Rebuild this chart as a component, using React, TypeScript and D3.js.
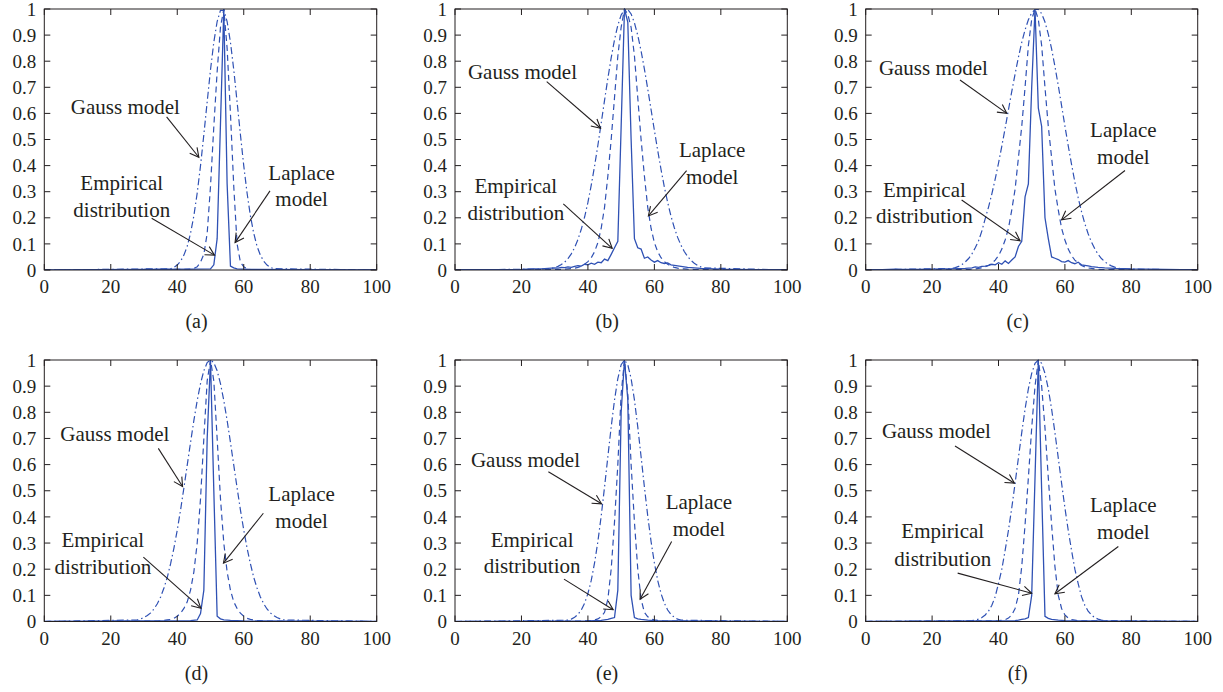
import React from 'react';
import * as d3 from 'd3';

type Pt = [number, number];

// ---------- tick labels / categories ----------
const xTicks = [0, 20, 40, 60, 80, 100];
const yTicks = [0, 0.1, 0.2, 0.3, 0.4, 0.5, 0.6, 0.7, 0.8, 0.9, 1];
const yTickLabels = ['0', '0.1', '0.2', '0.3', '0.4', '0.5', '0.6', '0.7', '0.8', '0.9', '1'];
const panelLabels = ['(a)', '(b)', '(c)', '(d)', '(e)', '(f)'];
const gaussText = ['Gauss model'];
const laplaceText = ['Laplace', 'model'];
const empiricalText = ['Empirical', 'distribution'];

// ---------- empirical distributions (x, y) ----------
const empiricalA: Pt[] = [[0, 0], [45, 0.003], [50, 0.004], [51, 0.02], [52, 0.12], [53, 0.56], [54, 1], [55, 0.33], [56, 0.015], [57, 0.008], [58, 0.004], [62, 0.002], [100, 0]];
const empiricalB: Pt[] = [[0, 0.001], [10, 0.001], [20, 0.002], [22, 0.003], [24, 0.004], [26, 0.004], [28, 0.006], [30, 0.008], [31, 0.007], [32, 0.01], [33, 0.009], [34, 0.012], [35, 0.01], [36, 0.014], [37, 0.017], [38, 0.015], [39, 0.022], [40, 0.02], [41, 0.026], [42, 0.022], [43, 0.03], [44, 0.028], [45, 0.042], [46, 0.036], [47, 0.06], [48, 0.085], [49, 0.11], [50, 0.55], [51, 1], [52, 0.95], [53, 0.5], [54, 0.12], [55, 0.085], [56, 0.08], [57, 0.045], [58, 0.05], [59, 0.038], [60, 0.03], [61, 0.036], [62, 0.028], [63, 0.025], [64, 0.027], [65, 0.02], [66, 0.018], [67, 0.016], [68, 0.014], [69, 0.012], [70, 0.01], [72, 0.008], [74, 0.006], [76, 0.005], [78, 0.004], [80, 0.003], [85, 0.002], [90, 0.001], [100, 0.001]];
const empiricalC: Pt[] = [[0, 0.001], [5, 0.001], [9, 0.003], [10, 0.002], [15, 0.002], [20, 0.003], [25, 0.004], [28, 0.005], [30, 0.006], [32, 0.008], [33, 0.012], [34, 0.01], [35, 0.014], [36, 0.015], [37, 0.018], [38, 0.022], [39, 0.02], [40, 0.028], [41, 0.022], [42, 0.035], [43, 0.025], [44, 0.038], [45, 0.05], [46, 0.09], [47, 0.11], [48, 0.28], [49, 0.33], [50, 0.7], [51, 1], [52, 0.62], [53, 0.55], [54, 0.2], [55, 0.12], [56, 0.05], [57, 0.045], [58, 0.04], [59, 0.032], [60, 0.03], [61, 0.036], [62, 0.028], [63, 0.024], [64, 0.03], [65, 0.02], [66, 0.018], [67, 0.016], [68, 0.013], [70, 0.01], [72, 0.008], [75, 0.006], [78, 0.005], [80, 0.004], [85, 0.003], [90, 0.002], [95, 0.001], [100, 0.001]];
const empiricalD: Pt[] = [[0, 0], [44, 0.003], [46, 0.006], [47, 0.03], [48, 0.12], [49, 0.7], [50, 1], [51, 0.5], [52, 0.02], [53, 0.01], [54, 0.006], [56, 0.004], [60, 0.002], [100, 0]];
const empiricalE: Pt[] = [[0, 0], [40, 0.002], [44, 0.004], [46, 0.008], [47, 0.012], [48, 0.015], [49, 0.12], [50, 0.8], [51, 1], [52, 0.85], [53, 0.1], [54, 0.015], [55, 0.01], [56, 0.008], [58, 0.005], [60, 0.003], [65, 0.002], [100, 0]];
const empiricalF: Pt[] = [[0, 0], [40, 0.002], [45, 0.003], [46, 0.005], [47, 0.008], [48, 0.01], [49, 0.015], [50, 0.1], [51, 0.55], [52, 1], [53, 0.5], [54, 0.02], [55, 0.012], [56, 0.008], [58, 0.005], [60, 0.003], [65, 0.002], [100, 0]];

// ---------- Laplace model (values at consecutive integer x from start) ----------
const laplaceAStart = 44;
const laplaceA = [0.003, 0.006, 0.012, 0.03, 0.06, 0.14, 0.32, 0.55, 0.76, 0.93, 1, 0.85, 0.6, 0.32, 0.1, 0.03, 0.012, 0.005, 0.002];
const laplaceBStart = 31;
const laplaceB = [0.002, 0.0025, 0.003, 0.004, 0.005, 0.007, 0.01, 0.015, 0.022, 0.032, 0.047, 0.07, 0.105, 0.16, 0.24, 0.36, 0.5, 0.66, 0.82, 0.93, 1, 0.98, 0.93, 0.82, 0.66, 0.5, 0.36, 0.24, 0.16, 0.105, 0.07, 0.047, 0.032, 0.022, 0.015, 0.01, 0.007, 0.005, 0.004, 0.003, 0.0025, 0.002];
const laplaceCStart = 31;
const laplaceC = [0.002, 0.003, 0.004, 0.006, 0.008, 0.012, 0.017, 0.026, 0.038, 0.055, 0.08, 0.115, 0.16, 0.23, 0.31, 0.43, 0.55, 0.7, 0.86, 0.96, 1, 0.96, 0.86, 0.7, 0.55, 0.43, 0.31, 0.23, 0.16, 0.115, 0.08, 0.055, 0.038, 0.026, 0.017, 0.012, 0.008, 0.006, 0.004, 0.003, 0.002];
const laplaceDStart = 34;
const laplaceD = [0.002, 0.003, 0.004, 0.006, 0.008, 0.012, 0.02, 0.032, 0.05, 0.075, 0.12, 0.19, 0.3, 0.47, 0.7, 0.92, 1, 0.92, 0.7, 0.47, 0.3, 0.19, 0.12, 0.075, 0.05, 0.032, 0.02, 0.012, 0.008, 0.006, 0.004, 0.003, 0.002];
const laplaceEStart = 39;
const laplaceE = [0.002, 0.003, 0.004, 0.006, 0.01, 0.018, 0.035, 0.085, 0.2, 0.38, 0.6, 0.87, 1, 0.87, 0.6, 0.38, 0.2, 0.085, 0.035, 0.018, 0.01, 0.006, 0.004, 0.003, 0.002];
const laplaceFStart = 40;
const laplaceF = [0.003, 0.005, 0.007, 0.013, 0.025, 0.05, 0.1, 0.21, 0.37, 0.55, 0.74, 0.9, 1, 0.9, 0.74, 0.55, 0.37, 0.21, 0.1, 0.05, 0.025, 0.013, 0.007, 0.005, 0.003];

// ---------- Gauss model (values at consecutive integer x from start) ----------
const gaussAStart = 38;
const gaussA = [0.005, 0.01, 0.019, 0.034, 0.057, 0.091, 0.141, 0.208, 0.295, 0.4, 0.519, 0.644, 0.767, 0.873, 0.952, 0.995, 0.995, 0.952, 0.873, 0.767, 0.644, 0.519, 0.4, 0.295, 0.208, 0.141, 0.091, 0.057, 0.034, 0.019, 0.01, 0.005];
const gaussBStart = 28;
const gaussB = [0.004, 0.006, 0.009, 0.014, 0.021, 0.03, 0.044, 0.062, 0.086, 0.117, 0.156, 0.203, 0.259, 0.325, 0.398, 0.478, 0.563, 0.65, 0.734, 0.813, 0.882, 0.938, 0.977, 0.997, 0.998, 0.981, 0.947, 0.899, 0.839, 0.77, 0.694, 0.615, 0.535, 0.458, 0.385, 0.318, 0.259, 0.206, 0.162, 0.125, 0.095, 0.071, 0.052, 0.037, 0.026, 0.018, 0.012, 0.008];
const gaussCStart = 26;
const gaussC = [0.006, 0.009, 0.014, 0.021, 0.031, 0.044, 0.062, 0.085, 0.112, 0.15, 0.197, 0.241, 0.292, 0.348, 0.409, 0.475, 0.543, 0.614, 0.684, 0.751, 0.815, 0.872, 0.92, 0.959, 0.985, 0.998, 0.998, 0.982, 0.95, 0.904, 0.847, 0.78, 0.707, 0.63, 0.552, 0.476, 0.405, 0.337, 0.277, 0.224, 0.178, 0.139, 0.107, 0.081, 0.06, 0.044, 0.032, 0.022, 0.016, 0.011, 0.007, 0.004];
const gaussDStart = 28;
const gaussD = [0.006, 0.01, 0.015, 0.023, 0.033, 0.048, 0.068, 0.094, 0.128, 0.169, 0.221, 0.281, 0.35, 0.427, 0.511, 0.598, 0.685, 0.769, 0.845, 0.91, 0.959, 0.99, 1, 0.99, 0.959, 0.91, 0.845, 0.769, 0.685, 0.598, 0.511, 0.427, 0.35, 0.281, 0.221, 0.169, 0.128, 0.094, 0.068, 0.048, 0.033, 0.023, 0.015, 0.01, 0.006];
const gaussEStart = 34;
const gaussE = [0.005, 0.009, 0.016, 0.027, 0.044, 0.07, 0.107, 0.157, 0.224, 0.306, 0.404, 0.514, 0.63, 0.744, 0.847, 0.929, 0.982, 1, 0.982, 0.929, 0.847, 0.744, 0.63, 0.514, 0.404, 0.306, 0.224, 0.157, 0.107, 0.07, 0.044, 0.027, 0.016, 0.009, 0.005];
const gaussFStart = 32;
const gaussF = [0.003, 0.005, 0.009, 0.015, 0.025, 0.04, 0.062, 0.095, 0.145, 0.2, 0.272, 0.349, 0.435, 0.529, 0.626, 0.722, 0.812, 0.89, 0.949, 0.987, 1, 0.987, 0.949, 0.89, 0.812, 0.722, 0.626, 0.529, 0.435, 0.349, 0.272, 0.2, 0.145, 0.095, 0.062, 0.04, 0.025, 0.015, 0.009, 0.005, 0.003];

// ---------- annotation anchors in data units ----------
// text: [x, baseline y of each line]; arrow: [x1, y1, x2(tip), y2(tip)]
const notes = [
  { g: [24.4, 0.596], ga: [36.8, 0.587, 46.5, 0.432], l: [77.4, 0.345, 0.245], la: [67.9, 0.303, 57.4, 0.105], e: [23.3, 0.307, 0.202], ea: [32.3, 0.198, 51.2, 0.057] },
  { g: [20.3, 0.73], ga: [27.6, 0.722, 43.8, 0.543], l: [77.4, 0.434, 0.33], la: [69.7, 0.381, 58.2, 0.207], e: [18.3, 0.296, 0.192], ea: [32.6, 0.253, 47.3, 0.083] },
  { g: [20.4, 0.746], ga: [28.4, 0.728, 42.5, 0.6], l: [77.6, 0.511, 0.406], la: [78.1, 0.381, 59.0, 0.192], e: [17.7, 0.281, 0.179], ea: [28.9, 0.268, 46.5, 0.112] },
  { g: [21.2, 0.692], ga: [34.3, 0.662, 41.6, 0.516], l: [77.4, 0.459, 0.357], la: [65.9, 0.414, 53.9, 0.223], e: [17.6, 0.284, 0.182], ea: [29.8, 0.246, 47.1, 0.051] },
  { g: [21.2, 0.592], ga: [28.1, 0.573, 44.1, 0.45], l: [73.4, 0.429, 0.327], la: [65.2, 0.306, 55.7, 0.085], e: [23.2, 0.284, 0.185], ea: [32.8, 0.162, 47.6, 0.045] },
  { g: [21.3, 0.7], ga: [26.9, 0.671, 44.8, 0.529], l: [77.6, 0.42, 0.315], la: [76.1, 0.287, 57.0, 0.106], e: [23.2, 0.318, 0.213], ea: [27.7, 0.185, 50.0, 0.108] },
];

function modelSeries(start: number, values: number[]): Pt[] {
  return [[0, 0], ...values.map((v, i) => [start + i, v] as Pt), [100, 0]];
}

const panels = [
  { emp: empiricalA, lap: modelSeries(laplaceAStart, laplaceA), gau: modelSeries(gaussAStart, gaussA) },
  { emp: empiricalB, lap: modelSeries(laplaceBStart, laplaceB), gau: modelSeries(gaussBStart, gaussB) },
  { emp: empiricalC, lap: modelSeries(laplaceCStart, laplaceC), gau: modelSeries(gaussCStart, gaussC) },
  { emp: empiricalD, lap: modelSeries(laplaceDStart, laplaceD), gau: modelSeries(gaussDStart, gaussD) },
  { emp: empiricalE, lap: modelSeries(laplaceEStart, laplaceE), gau: modelSeries(gaussEStart, gaussE) },
  { emp: empiricalF, lap: modelSeries(laplaceFStart, laplaceF), gau: modelSeries(gaussFStart, gaussF) },
];

// ---------- layout ----------
const W = 1223;
const H = 692;
const COLS: [number, number][] = [[44.3, 376.7], [455, 787.3], [865.7, 1197.7]];
const ROWS: [number, number][] = [[9, 270], [360, 621.5]];
const BLUE = '#2f51b4';
const INK = '#231f20';
const FONT = 'Liberation Serif, DejaVu Serif, Noto Serif, Times New Roman, serif';
const TICK = 6;

function Arrow({ x1, y1, x2, y2 }: { x1: number; y1: number; x2: number; y2: number }) {
  const ang = Math.atan2(y2 - y1, x2 - x1);
  const len = 10;
  const spread = (28 * Math.PI) / 180;
  const a1 = ang + Math.PI - spread;
  const a2 = ang + Math.PI + spread;
  return (
    <g stroke={INK} strokeWidth={1.1} fill="none">
      <line x1={x1} y1={y1} x2={x2} y2={y2} />
      <polyline points={`${x2 + len * Math.cos(a1)},${y2 + len * Math.sin(a1)} ${x2},${y2} ${x2 + len * Math.cos(a2)},${y2 + len * Math.sin(a2)}`} />
    </g>
  );
}

function Panel({ idx }: { idx: number }) {
  const [x0, x1] = COLS[idx % 3];
  const [y0, y1] = ROWS[Math.floor(idx / 3)];
  const xs = d3.scaleLinear().domain([0, 100]).range([x0, x1]);
  const ys = d3.scaleLinear().domain([0, 1]).range([y1, y0]);
  const line = d3.line<Pt>().x((d) => xs(d[0])).y((d) => ys(d[1]));
  const p = panels[idx];
  const n = notes[idx];
  const clipId = `clip${idx}`;
  return (
    <g>
      <defs>
        <clipPath id={clipId}>
          <rect x={x0} y={y0 - 1} width={x1 - x0} height={y1 - y0 + 1} />
        </clipPath>
      </defs>
      <g clipPath={`url(#${clipId})`} fill="none" stroke={BLUE}>
        <path d={line(p.gau) || ''} strokeWidth={1.2} strokeDasharray="7,3,1.5,3" />
        <path d={line(p.lap) || ''} strokeWidth={1.2} strokeDasharray="6,4" />
        <path d={line(p.emp) || ''} strokeWidth={1.3} />
      </g>
      <rect x={x0} y={y0} width={x1 - x0} height={y1 - y0} fill="none" stroke={INK} strokeWidth={1} />
      <g stroke={INK} strokeWidth={1}>
        {xTicks.map((t) => (
          <g key={`xt${t}`}>
            <line x1={xs(t)} x2={xs(t)} y1={y1} y2={y1 - TICK} />
            <line x1={xs(t)} x2={xs(t)} y1={y0} y2={y0 + TICK} />
          </g>
        ))}
        {yTicks.map((t) => (
          <g key={`yt${t}`}>
            <line x1={x0} x2={x0 + TICK} y1={ys(t)} y2={ys(t)} />
            <line x1={x1} x2={x1 - TICK} y1={ys(t)} y2={ys(t)} />
          </g>
        ))}
      </g>
      <g style={{ fontFamily: FONT }} fontSize={19} fill={INK}>
        {xTicks.map((t) => (
          <text key={`xl${t}`} x={xs(t)} y={y1 + 23} textAnchor="middle">{String(t)}</text>
        ))}
        {yTicks.map((t, i) => (
          <text key={`yl${t}`} x={x0 - 8} y={ys(t)} dy="0.35em" textAnchor="end">{yTickLabels[i]}</text>
        ))}
      </g>
      <text x={(x0 + x1) / 2 - 14} y={y1 + 58} textAnchor="middle" style={{ fontFamily: FONT }} fontSize={20} fill={INK}>
        {panelLabels[idx]}
      </text>
      <g style={{ fontFamily: FONT }} fontSize={21} fill={INK} textAnchor="middle">
        <text x={xs(n.g[0])} y={ys(n.g[1])}>{gaussText[0]}</text>
        <text x={xs(n.l[0])} y={ys(n.l[1])}>{laplaceText[0]}</text>
        <text x={xs(n.l[0])} y={ys(n.l[2])}>{laplaceText[1]}</text>
        <text x={xs(n.e[0])} y={ys(n.e[1])}>{empiricalText[0]}</text>
        <text x={xs(n.e[0])} y={ys(n.e[2])}>{empiricalText[1]}</text>
      </g>
      <Arrow x1={xs(n.ga[0])} y1={ys(n.ga[1])} x2={xs(n.ga[2])} y2={ys(n.ga[3])} />
      <Arrow x1={xs(n.la[0])} y1={ys(n.la[1])} x2={xs(n.la[2])} y2={ys(n.la[3])} />
      <Arrow x1={xs(n.ea[0])} y1={ys(n.ea[1])} x2={xs(n.ea[2])} y2={ys(n.ea[3])} />
    </g>
  );
}

export default function App() {
  return (
    <svg
      width={W}
      height={H}
      viewBox={`0 0 ${W} ${H}`}
      style={{ position: 'absolute', left: 0, top: 0, background: '#fff' }}
    >
      <rect x={0} y={0} width={W} height={H} fill="#fff" />
      {panels.map((_, i) => (
        <Panel key={i} idx={i} />
      ))}
    </svg>
  );
}
